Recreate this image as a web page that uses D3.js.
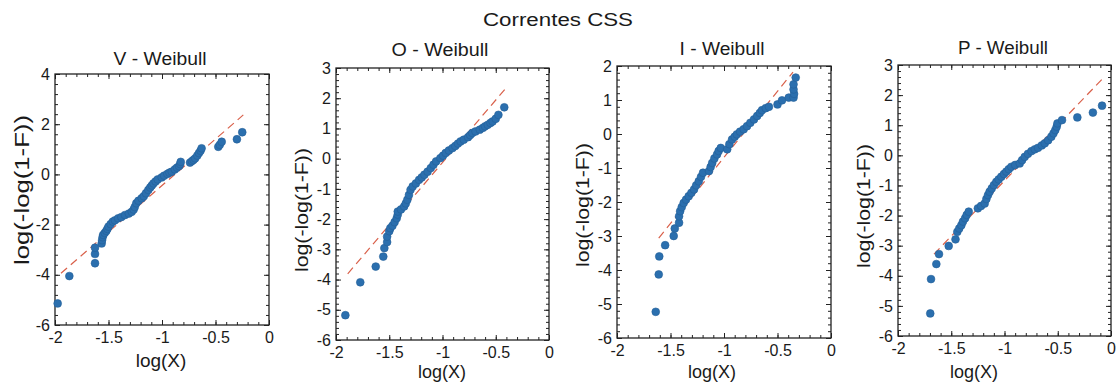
<!DOCTYPE html>
<html>
<head>
<meta charset="utf-8">
<script src="https://cdn.jsdelivr.net/npm/d3@7"></script>
<style>
  html, body { margin: 0; padding: 0; background: #fff; }
  svg { display: block; font-family: "Liberation Sans", Arial, Helvetica, sans-serif; }
</style>
</head>
<body>
<svg id="chart" width="1120" height="383"></svg>
<script>
// ---------------- DATA ----------------
const mainTitle = "Correntes CSS";
const panelTitles = ["V - Weibull", "O - Weibull", "I - Weibull", "P - Weibull"];
const xLabel = "log(X)";
const yLabel = "log(-log(1-F))";
const xTicks = [-2, -1.5, -1, -0.5, 0];
const xTickLabels = ["-2", "-1.5", "-1", "-0.5", "0"];
const vYTicks = [-6, -4, -2, 0, 2, 4];
const oYTicks = [-6, -5, -4, -3, -2, -1, 0, 1, 2, 3];
const iYTicks = [-6, -5, -4, -3, -2, -1, 0, 1, 2];
const pYTicks = [-6, -5, -4, -3, -2, -1, 0, 1, 2, 3];

// V panel: log(X), log(-log(1-F))
const vX = [-1.975,-1.866,-1.626,-1.626,-1.626,-1.564,-1.56,-1.555,-1.55,-1.535,-1.52,-1.51,-1.50,-1.48,-1.46,-1.44,-1.41,-1.38,-1.346,-1.31,-1.283,-1.265,-1.255,-1.24,-1.22,-1.19,-1.17,-1.15,-1.128,-1.11,-1.095,-1.08,-1.06,-1.04,-1.003,-0.98,-0.95,-0.93,-0.909,-0.88,-0.86,-0.84,-0.83,-0.825,-0.738,-0.72,-0.705,-0.69,-0.67,-0.655,-0.64,-0.63,-0.474,-0.46,-0.442,-0.30,-0.25];
const vY = [-5.14,-4.05,-3.54,-3.17,-2.92,-2.75,-2.62,-2.50,-2.41,-2.33,-2.25,-2.17,-2.08,-1.98,-1.88,-1.83,-1.75,-1.70,-1.62,-1.56,-1.49,-1.40,-1.30,-1.15,-1.05,-0.95,-0.87,-0.75,-0.62,-0.52,-0.44,-0.36,-0.28,-0.20,-0.12,-0.05,0.02,0.07,0.11,0.20,0.27,0.33,0.41,0.50,0.47,0.53,0.58,0.64,0.75,0.85,0.94,1.04,1.10,1.18,1.30,1.40,1.68];
const vFitX = [-1.944, -0.24];
const vFitY = [-3.94, 2.37];

// O panel
const oX = [-1.912,-1.772,-1.627,-1.556,-1.546,-1.52,-1.52,-1.50,-1.49,-1.47,-1.45,-1.43,-1.42,-1.42,-1.39,-1.36,-1.345,-1.33,-1.315,-1.30,-1.28,-1.25,-1.22,-1.195,-1.17,-1.14,-1.11,-1.085,-1.06,-1.02,-0.995,-0.97,-0.94,-0.906,-0.88,-0.855,-0.83,-0.80,-0.76,-0.74,-0.72,-0.69,-0.65,-0.62,-0.60,-0.575,-0.55,-0.53,-0.50,-0.475,-0.42];
const oY = [-5.18,-4.09,-3.57,-3.24,-2.96,-2.76,-2.58,-2.40,-2.30,-2.22,-2.10,-1.97,-1.85,-1.75,-1.68,-1.58,-1.48,-1.36,-1.20,-1.03,-0.92,-0.82,-0.70,-0.62,-0.53,-0.43,-0.31,-0.20,-0.09,0.02,0.10,0.19,0.27,0.35,0.42,0.50,0.57,0.63,0.71,0.78,0.85,0.90,0.96,1.02,1.07,1.12,1.18,1.23,1.32,1.45,1.70];
const oFitX = [-1.89, -0.413];
const oFitY = [-3.81, 2.30];

// I panel
const iX = [-1.638,-1.61,-1.605,-1.55,-1.47,-1.46,-1.42,-1.42,-1.41,-1.395,-1.377,-1.355,-1.33,-1.305,-1.28,-1.26,-1.236,-1.215,-1.196,-1.14,-1.125,-1.11,-1.09,-1.065,-1.05,-1.03,-0.97,-0.95,-0.925,-0.90,-0.88,-0.85,-0.816,-0.785,-0.754,-0.72,-0.69,-0.665,-0.645,-0.61,-0.58,-0.50,-0.458,-0.395,-0.35,-0.345,-0.35,-0.35,-0.33];
const iY = [-5.23,-4.13,-3.60,-3.27,-3.00,-2.78,-2.61,-2.42,-2.27,-2.15,-2.03,-1.93,-1.83,-1.73,-1.63,-1.51,-1.39,-1.26,-1.14,-1.09,-0.97,-0.85,-0.72,-0.60,-0.50,-0.41,-0.45,-0.30,-0.16,-0.08,-0.01,0.07,0.14,0.23,0.33,0.43,0.53,0.62,0.70,0.76,0.80,0.87,0.99,1.07,1.07,1.18,1.31,1.46,1.66];
const iFitX = [-1.61, -0.355];
const iFitY = [-3.06, 1.82];

// P panel
const pX = [-1.697,-1.69,-1.64,-1.615,-1.524,-1.46,-1.443,-1.425,-1.405,-1.39,-1.37,-1.355,-1.336,-1.25,-1.22,-1.186,-1.17,-1.155,-1.14,-1.12,-1.10,-1.077,-1.055,-1.03,-1.005,-0.983,-0.96,-0.936,-0.90,-0.857,-0.835,-0.81,-0.78,-0.747,-0.715,-0.685,-0.65,-0.622,-0.59,-0.56,-0.54,-0.523,-0.51,-0.503,-0.46,-0.316,-0.17,-0.084];
const pY = [-5.25,-4.11,-3.61,-3.28,-3.01,-2.79,-2.54,-2.43,-2.32,-2.20,-2.09,-1.98,-1.87,-1.76,-1.68,-1.60,-1.45,-1.32,-1.21,-1.10,-0.99,-0.88,-0.80,-0.71,-0.62,-0.54,-0.46,-0.38,-0.32,-0.27,-0.16,-0.05,0.05,0.14,0.20,0.25,0.33,0.40,0.50,0.62,0.73,0.84,0.95,1.06,1.17,1.26,1.42,1.65];
const pFitX = [-1.662, -0.075];
const pFitY = [-3.28, 2.56];

// ---------------- LAYOUT / STYLE ----------------
const series = [
  {xs: vX, ys: vY, fx: vFitX, fy: vFitY, yTicks: vYTicks},
  {xs: oX, ys: oY, fx: oFitX, fy: oFitY, yTicks: oYTicks},
  {xs: iX, ys: iY, fx: iFitX, fy: iFitY, yTicks: iYTicks},
  {xs: pX, ys: pY, fx: pFitX, fy: pFitY, yTicks: pYTicks}
];
const layout = [
  {left: 55,  top: 74, right: 269,  bottom: 325, titleX: 160,  titleY: 65, titleW: 93,
   ylabX: 22,  ylabY: 190, ylabLen: 150, ylabSize: 20, xlabX: 161, xlabY: 367, xlabSize: 19, minorY: 5},
  {left: 336, top: 68, right: 549,  bottom: 340, titleX: 440,  titleY: 56, titleW: 97,
   ylabX: 302, ylabY: 210, ylabLen: 124, ylabSize: 18, xlabX: 442, xlabY: 378, xlabSize: 18, minorY: 5},
  {left: 617, top: 66, right: 831,  bottom: 338, titleX: 722,  titleY: 55, titleW: 85,
   ylabX: 583, ylabY: 205, ylabLen: 124, ylabSize: 18, xlabX: 712, xlabY: 378, xlabSize: 18, minorY: 5},
  {left: 898, top: 65, right: 1111, bottom: 336, titleX: 1003, titleY: 54, titleW: 90,
   ylabX: 864, ylabY: 206, ylabLen: 124, ylabSize: 18, xlabX: 974, xlabY: 378, xlabSize: 18, minorY: 5}
];
const dotColor = "#2b6fae";
const fitColor = "#d9604a";
const axisColor = "#222";
const textColor = "#1a1a1a";

const svg = d3.select("#chart");

svg.append("text")
  .attr("x", 558).attr("y", 26)
  .attr("text-anchor", "middle")
  .attr("font-size", 18)
  .attr("fill", textColor)
  .attr("textLength", 150).attr("lengthAdjust", "spacingAndGlyphs")
  .text(mainTitle);

series.forEach((s, k) => {
  const L = layout[k];
  const x = d3.scaleLinear().domain([-2, 0]).range([L.left, L.right]);
  const yMin = d3.min(s.yTicks), yMax = d3.max(s.yTicks);
  const y = d3.scaleLinear().domain([yMin, yMax]).range([L.bottom, L.top]);
  const g = svg.append("g");

  const xMinor = d3.range(-2, 0.0001, 0.1).map(v => +v.toFixed(3));
  const yStep = (s.yTicks[1] - s.yTicks[0]) / L.minorY;
  const yMinor = d3.range(yMin, yMax + 1e-6, yStep).map(v => +v.toFixed(3));

  const mk = (axisFn, scale, vals, len, labels) => {
    const a = axisFn(scale).tickValues(vals).tickSizeInner(-len).tickSizeOuter(0);
    if (labels) a.tickFormat((d, i) => labels[i]); else a.tickFormat("");
    return a;
  };
  const drawAxis = (axis, transform) => {
    const ax = g.append("g").attr("transform", transform).call(axis);
    ax.select(".domain").remove();
    ax.selectAll("line").attr("stroke", axisColor).attr("stroke-width", 1);
    ax.selectAll("text").attr("fill", textColor).attr("font-size", 16)
      .attr("font-family", "Liberation Sans, Arial, sans-serif");
    return ax;
  };
  drawAxis(mk(d3.axisBottom, x, xMinor, 3), `translate(0,${L.bottom})`);
  const xb = drawAxis(mk(d3.axisBottom, x, xTicks, 5, xTickLabels), `translate(0,${L.bottom})`);
  xb.selectAll("text").attr("y", 7).attr("dy", "0.71em");
  drawAxis(mk(d3.axisTop, x, xMinor, 3), `translate(0,${L.top})`);
  drawAxis(mk(d3.axisTop, x, xTicks, 5), `translate(0,${L.top})`);
  drawAxis(mk(d3.axisLeft, y, yMinor, 3), `translate(${L.left},0)`);
  const yl = drawAxis(mk(d3.axisLeft, y, s.yTicks, 5, s.yTicks.map(String)), `translate(${L.left},0)`);
  yl.selectAll("text").attr("x", -5);
  drawAxis(mk(d3.axisRight, y, yMinor, 3), `translate(${L.right},0)`);
  drawAxis(mk(d3.axisRight, y, s.yTicks, 5), `translate(${L.right},0)`);

  g.append("rect")
    .attr("x", L.left).attr("y", L.top)
    .attr("width", L.right - L.left).attr("height", L.bottom - L.top)
    .attr("fill", "none").attr("stroke", axisColor).attr("stroke-width", 1.3);

  const fitData = s.fx.map((v, i) => [v, s.fy[i]]);
  g.append("path")
    .datum(fitData)
    .attr("d", d3.line().x(d => x(d[0])).y(d => y(d[1])))
    .attr("fill", "none")
    .attr("stroke", fitColor)
    .attr("stroke-width", 1.2)
    .attr("stroke-dasharray", "8,5");

  const pts = s.xs.map((v, i) => [v, s.ys[i]]);
  g.append("g").selectAll("circle")
    .data(pts).join("circle")
    .attr("cx", d => x(d[0])).attr("cy", d => y(d[1]))
    .attr("r", 3.9)
    .attr("fill", dotColor)
    .attr("stroke", "#245f98").attr("stroke-width", 0.6);

  g.append("text")
    .attr("x", L.titleX).attr("y", L.titleY)
    .attr("text-anchor", "middle")
    .attr("font-size", 18).attr("fill", textColor)
    .attr("textLength", L.titleW).attr("lengthAdjust", "spacingAndGlyphs")
    .text(panelTitles[k]);

  g.append("text")
    .attr("x", L.xlabX).attr("y", L.xlabY)
    .attr("text-anchor", "middle")
    .attr("font-size", L.xlabSize).attr("fill", textColor)
    .text(xLabel);

  g.append("text")
    .attr("transform", `translate(${L.ylabX},${L.ylabY}) rotate(-90)`)
    .attr("text-anchor", "middle")
    .attr("dy", "0.35em")
    .attr("font-size", L.ylabSize).attr("fill", textColor)
    .attr("textLength", L.ylabLen).attr("lengthAdjust", "spacingAndGlyphs")
    .text(yLabel);
});
</script>
</body>
</html>
